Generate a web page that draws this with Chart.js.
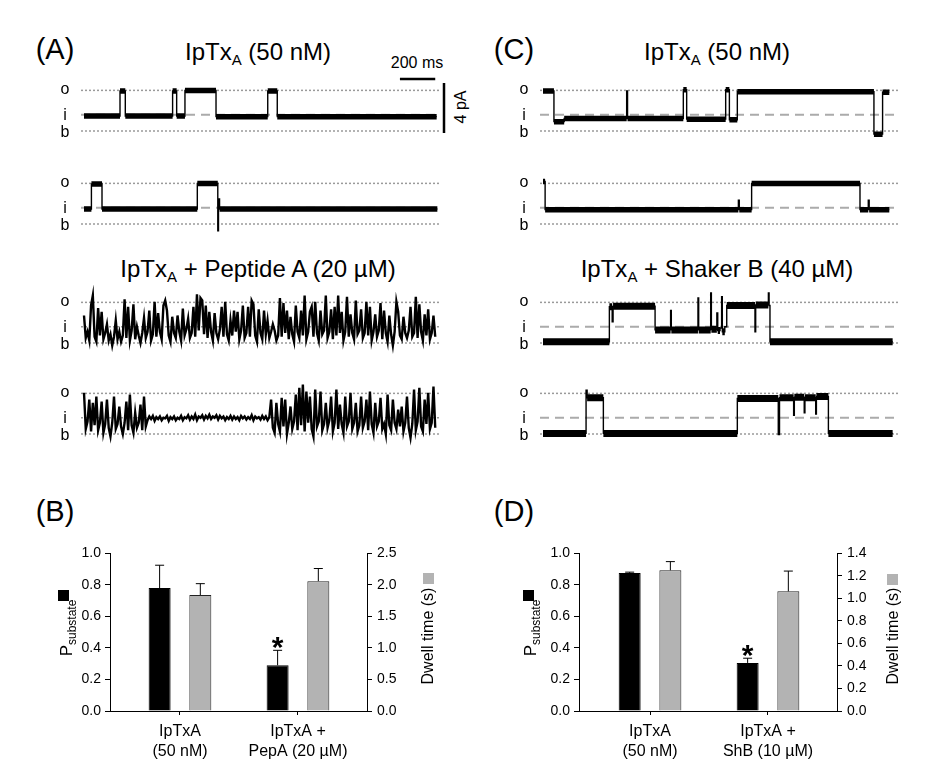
<!DOCTYPE html>
<html>
<head>
<meta charset="utf-8">
<script src="https://cdn.jsdelivr.net/npm/chart.js@4.4.1/dist/chart.umd.min.js"></script>
<style>
  body { margin: 0; background: #fff; font-family: 'Liberation Sans', Arial, sans-serif; color: #000; }
  #fig { position: relative; width: 926px; height: 771px; overflow: hidden; }
  canvas { position: absolute; }
  .t { position: absolute; transform: translate(-50%, -50%); white-space: nowrap; line-height: 1; }
  .panel { font-size: 29px; }
  .title { font-size: 24px; }
  .title sub { font-size: 15px; vertical-align: baseline; position: relative; top: 5px; }
  .small { font-size: 16px; }
  .rot { transform: translate(-50%, -50%) rotate(-90deg); }
  .ytitle { font-size: 17px; }
  .ytitle sub { font-size: 12px; vertical-align: baseline; position: relative; top: 4px; }
  .dwell { font-size: 16px; }
  .sq { position: absolute; width: 11px; height: 11px; }
</style>
</head>
<body>
<div id="fig">
  <div class="t panel" style="left:55px;top:49px">(A)</div>
  <div class="t panel" style="left:514px;top:49px">(C)</div>
  <div class="t panel" style="left:55px;top:511px">(B)</div>
  <div class="t panel" style="left:514px;top:511px">(D)</div>

  <div class="t title" style="left:258px;top:52px">IpTx<sub>A</sub> (50 nM)</div>
  <div class="t title" style="left:717px;top:52px">IpTx<sub>A</sub> (50 nM)</div>
  <div class="t title" style="left:258px;top:269px">IpTx<sub>A</sub> + Peptide A (20 µM)</div>
  <div class="t title" style="left:717px;top:269px">IpTx<sub>A</sub> + Shaker B (40 µM)</div>

  <div class="t small" style="left:417px;top:63px">200 ms</div>
  <div class="t small rot" style="left:461px;top:107px">4 pA</div>

  <canvas id="traceA1" width="419" height="80" style="left:51px;top:71px"></canvas>
  <canvas id="traceA2" width="419" height="80" style="left:51px;top:164px"></canvas>
  <canvas id="traceA3" width="419" height="80" style="left:51px;top:283px"></canvas>
  <canvas id="traceA4" width="419" height="80" style="left:51px;top:374px"></canvas>
  <canvas id="traceC1" width="409" height="80" style="left:510px;top:71px"></canvas>
  <canvas id="traceC2" width="409" height="80" style="left:510px;top:164px"></canvas>
  <canvas id="traceC3" width="409" height="80" style="left:510px;top:283px"></canvas>
  <canvas id="traceC4" width="409" height="80" style="left:510px;top:374px"></canvas>

  <canvas id="barsB" width="380" height="230" style="left:50px;top:540px"></canvas>
  <canvas id="barsD" width="381" height="230" style="left:519px;top:540px"></canvas>

  <div class="t ytitle rot" style="left:66px;top:628px">P<sub>substate</sub></div>
  <div class="sq" style="left:58px;top:590px;background:#000"></div>
  <div class="t dwell rot" style="left:428px;top:636px">Dwell time (s)</div>
  <div class="sq" style="left:423px;top:573px;background:#b3b3b3"></div>

  <div class="t ytitle rot" style="left:530px;top:628px">P<sub>substate</sub></div>
  <div class="sq" style="left:523px;top:590px;background:#000"></div>
  <div class="t dwell rot" style="left:893px;top:636px">Dwell time (s)</div>
  <div class="sq" style="left:887px;top:574px;background:#b3b3b3"></div>
</div>

<script>
// current levels (pA, blocked = 0)
const levelOpen = 3.25;
const levelSub = 1.3;
const levelBlocked = 0;
const traceMin = -17;
const traceMax = 2017;
const flickerStep = 10; // ms between samples of the flicker traces
const minDwell = 12; // shorter dwells are drawn as thin spikes

// scale bars of panel A (ms, pA)
const timeBar = [1790, 1990];
const timeBarLevel = 4.16;
const currentBar = [-0.16, 3.84];

// IpTxA traces: time of each transition (ms) and level after it (pA)
const a1Times = [0, 204, 234, 502, 525, 572, 748, 1041, 1095, 1998];
const a1Levels = [1.2, 3.2, 1.2, 3.2, 1.2, 3.25, 1.15, 3.2, 1.15, 1.15];
const a2Times = [0, 42, 102, 642, 758, 762, 768, 2002];
const a2Levels = [1.2, 3.2, 1.2, 3.25, -0.55, 2.0, 1.2, 1.2];
const c1Times = [0, 62, 120, 474, 479, 795, 814, 1035, 1056, 1101, 1875, 1924, 1962];
const c1Levels = [3.2, 0.75, 1.0, 3.2, 1.0, 3.3, 0.95, 3.3, 0.9, 3.15, -0.25, 3.1, 3.1];
const c2Times = [0, 12, 1107, 1112, 1182, 1796, 1843, 1848, 1962];
const c2Levels = [3.4, 1.15, 1.9, 1.15, 3.25, 1.15, 1.9, 1.15, 1.15];
const c3Times = [0, 376, 392, 397, 635, 723, 727, 878, 882, 950, 954, 985, 990, 1003, 1012, 1016, 1030, 1041, 1201, 1205, 1277, 1281, 1286, 1981];
const c3Levels = [0.1, 2.9, 1.7, 2.95, 1.05, 2.6, 1.05, 3.6, 1.05, 4.0, 1.1, 2.4, 1.0, 1.2, 3.7, 0.9, 1.3, 3.0, 0.9, 3.05, 4.0, 3.0, 0.1, 0.1];
const c4Times = [0, 244, 250, 342, 1101, 1333, 1340, 1420, 1424, 1480, 1484, 1545, 1549, 1617, 1981];
const c4Levels = [0.05, 3.5, 2.9, 0.05, 2.85, -0.05, 2.9, 1.5, 2.95, 1.7, 2.9, 1.6, 3.0, 0.05, 0.05];

// IpTxA + Peptide A traces, one reading every 10 ms (pA)
const a3Current = [
  2.2, 0.4, 0.9, 0.2, 3.0, 3.8, 0.5, 0.1, 2.8, 0.6, 2.5, 0.3, 0.8, 1.5, 0.2, 0.7, -0.2, 0.5, 1.8, 0.3,
  0.9, 0.1, 0.6, 3.5, 0.4, 2.9, 0.2, 1.0, 3.1, 0.3, 1.3, 0.6, 0.0, 0.8, 2.0, 0.4, 0.9, 2.6, 0.2, 0.7,
  3.3, 0.5, 2.4, 0.9, 0.3, 3.0, 3.4, 2.6, 0.6, 0.1, 2.1, 0.8, 0.4, 2.2, 0.9, 0.2, 2.75, 0.6, 1.1, 1.95,
  0.4, 0.8, 2.9, 0.5, 3.9, 1.0, 3.6, 3.4, 0.7, 3.0, 0.4, 2.5, 0.9, 0.2, 2.4, 0.8, 0.3, 1.1, 2.9, 0.5,
  3.3, 0.7, 0.2, 1.8, 0.6, 2.6, 0.9, 2.5, 0.3, 1.0, 3.0, 0.4, 0.8, 2.9, 0.5, 3.4, 3.1, 0.6, 0.1, 2.7,
  0.8, 0.3, 2.6, 0.7, 1.8, 0.4, 0.9, 1.5, 1.0, 0.2, 0.6, 3.6, 0.5, 3.2, 0.8, 2.6, 0.3, 2.1, 0.7, 0.1,
  3.0, 0.9, 0.4, 2.6, 0.6, 3.8, 0.3, 0.9, 2.5, 2.9, 0.5, 3.3, 0.8, 0.2, 2.6, 0.7, 1.0, 3.8, 0.4, 0.9,
  2.7, 0.3, 2.9, 0.6, 3.8, 0.8, 2.5, 0.2, 0.9, 3.7, 0.5, 2.3, 0.8, 0.3, 3.4, 0.7, 1.0, 2.7, 0.4, 0.8,
  3.3, 0.6, 2.9, 0.2, 0.9, 2.3, 0.5, 1.0, 3.2, 0.3, 2.6, 0.8, 0.1, 2.2, 0.7, -0.2, 0.9, 3.3, 2.5, 0.6,
  0.3, 2.1, 0.8, 0.4, 1.0, 2.9, 0.5, 0.8, 3.7, 0.4, 3.1, 0.9, 0.2, 2.3, 0.6, 2.7, 0.3, 0.8, 2.2, 0.5,
];
const a4Current = [
  3.3, 0.4, 1.0, 2.75, 0.2, 2.5, 0.7, 3.0, 0.3, 0.9, 2.6, 0.1, 0.8, 2.75, 0.5, -0.2, 0.9, 3.0, 0.4, 0.8,
  2.2, 0.6, 0.0, 0.9, 2.6, 0.3, 3.15, 0.7, 0.1, 1.7, 0.5, 0.9, 2.35, 0.3, 3.0, 0.6,
  1.1, 1.4, 1.2, 1.45, 1.05, 1.35, 1.2, 1.4, 1.1, 1.3, 1.25, 1.45, 1.05, 1.35, 1.2, 1.4, 1.1, 1.3, 1.2, 1.45,
  1.1, 1.35, 1.25, 1.5, 1.15, 1.4, 1.2, 1.55, 1.1, 1.4, 1.3, 1.5, 1.15, 1.45, 1.25, 1.55, 1.2, 1.4, 1.3, 1.5,
  1.15, 1.45, 1.25, 1.4, 1.1, 1.35, 1.2, 1.45, 1.15, 1.4, 1.2, 1.35, 1.1, 1.45, 1.25, 1.4, 1.15, 1.35, 1.2, 1.5,
  1.1, 1.4, 1.25, 1.35, 1.15, 1.45, 1.2, 1.4, 1.1, 1.35,
  2.75, 0.5, 0.1, 2.5, 0.8, 0.2, 2.9, 0.6, 2.75, 0.0, 0.9, 2.2, 0.4, 1.0, 3.15, 0.3, 3.7, 0.7, 3.95, 0.2,
  3.4, 0.9, 3.0, 0.4, -0.2, 3.55, 0.6, 1.0, 3.4, 0.3, 0.8, 2.5, 0.5, 1.1, 3.0, 0.2, 0.9, 3.55, 0.4, 2.35,
  0.8, 0.1, 3.0, 0.6, 1.0, 3.3, 0.4, 0.9, 2.5, 0.2, 0.7, 3.0, 0.5, 1.0, 2.75, 0.3, 3.4, 0.8, 0.1, 2.5,
  0.6, 1.0, 2.9, 0.4, 0.8, 0.0, 3.15, 0.7, 0.3, 2.75, 0.9, 0.4, 1.95, 0.6, 2.2, 0.2, 0.9, 3.0, 0.5, -0.3,
  0.8, 3.55, 0.3, 1.0, 3.7, 0.6, 0.2, 2.75, 0.8, 3.3, 0.4, 0.9, 3.8, 0.5,
];

// bar panels
const catLabelsB = [['IpTxA', '(50 nM)'], ['IpTxA +', 'PepA (20 µM)']];
const pSubB = [0.78, 0.29];
const pSubErrB = [0.145, 0.095];
const dwellB = [1.84, 2.06];
const dwellErrB = [0.18, 0.2];
const starsB = [false, true];

const catLabelsD = [['IpTxA', '(50 nM)'], ['IpTxA +', 'ShB (10 µM)']];
const pSubD = [0.875, 0.305];
const pSubErrD = [0.006, 0.03];
const dwellD = [1.25, 1.063];
const dwellErrD = [0.077, 0.18];
const starsD = [false, true];

const FONT = "'Liberation Sans', Arial, sans-serif";
Chart.defaults.font.family = FONT;
Chart.defaults.color = '#000';

function stepPoints(times, levels) {
  return times.map((t, i) => ({ x: t, y: levels[i] }));
}

// the noisy band of each dwell that is long enough to show one
function dwellPoints(times, levels) {
  const pts = [];
  for (let i = 0; i < times.length - 1; i += 1) {
    if (times[i + 1] - times[i] < minDwell) continue;
    pts.push({ x: times[i], y: levels[i] }, { x: times[i + 1], y: levels[i] }, { x: times[i + 1], y: null });
  }
  return pts;
}

function sampledPoints(values) {
  return values.map((v, i) => ({ x: i * flickerStep, y: v }));
}

function levelLine(level, dash, color, width) {
  return {
    data: [{ x: traceMin, y: level }, { x: traceMax, y: level }],
    borderColor: color,
    borderWidth: width,
    borderDash: dash,
    pointRadius: 0,
  };
}

const stateLabels = {
  id: 'stateLabels',
  afterDraw(chart) {
    const { ctx, chartArea, scales } = chart;
    ctx.save();
    ctx.font = '16px ' + FONT;
    ctx.fillStyle = '#000';
    ctx.textAlign = 'center';
    ctx.textBaseline = 'middle';
    [['o', levelOpen, -1], ['i', levelSub, 1], ['b', levelBlocked, 2]].forEach(([txt, v, dy]) => {
      ctx.fillText(txt, chartArea.left - 16, scales.y.getPixelForValue(v) + dy);
    });
    ctx.restore();
  },
};

const scaleBarPlugin = {
  id: 'scaleBars',
  afterDraw(chart) {
    const { ctx, chartArea, scales } = chart;
    ctx.save();
    ctx.strokeStyle = '#000';
    ctx.lineWidth = 2.5;
    ctx.beginPath();
    const yb = scales.y.getPixelForValue(timeBarLevel);
    ctx.moveTo(scales.x.getPixelForValue(timeBar[0]), yb);
    ctx.lineTo(scales.x.getPixelForValue(timeBar[1]), yb);
    const xb = chartArea.right + 4;
    ctx.moveTo(xb, scales.y.getPixelForValue(currentBar[0]));
    ctx.lineTo(xb, scales.y.getPixelForValue(currentBar[1]));
    ctx.stroke();
    ctx.restore();
  },
};

function drawTrace(id, traceSets, opts) {
  const dotted = [2, 2];
  const subLine = opts.dottedSub
    ? levelLine(levelSub, dotted, '#9a9a9a', 1.5)
    : levelLine(levelSub, [9, 6], '#ababab', 2);
  const plugins = [stateLabels];
  if (opts.scaleBars) plugins.push(scaleBarPlugin);
  return new Chart(document.getElementById(id), {
    type: 'line',
    data: {
      datasets: [
        ...traceSets,
        levelLine(levelOpen, dotted, '#9a9a9a', 1.5),
        subLine,
        levelLine(levelBlocked, dotted, '#9a9a9a', 1.5),
      ],
    },
    options: {
      responsive: false,
      animation: false,
      events: [],
      layout: { padding: { left: 30, right: opts.padRight, top: 0, bottom: 0 } },
      plugins: { legend: { display: false }, tooltip: { enabled: false } },
      scales: {
        x: { type: 'linear', min: traceMin, max: traceMax, display: false },
        y: { type: 'linear', min: -1.6, max: 4.8, display: false },
      },
    },
    plugins,
  });
}

function stepTrace(id, times, levels, opts) {
  const sets = [
    { data: stepPoints(times, levels), borderColor: '#000', borderWidth: 1.4, stepped: true, pointRadius: 0 },
    { data: dwellPoints(times, levels), borderColor: '#000', borderWidth: opts.band, borderCapStyle: 'butt', pointRadius: 0, spanGaps: false },
  ];
  return drawTrace(id, sets, opts);
}

function flickerTrace(id, values, opts) {
  const sets = [
    { data: sampledPoints(values), borderColor: '#000', borderWidth: 2.4, pointRadius: 0, tension: 0 },
  ];
  return drawTrace(id, sets, { ...opts, dottedSub: true });
}

const errorBars = {
  id: 'errorBars',
  afterDatasetsDraw(chart) {
    const { ctx } = chart;
    ctx.save();
    ctx.strokeStyle = '#000';
    ctx.fillStyle = '#000';
    ctx.lineWidth = 1;
    chart.data.datasets.forEach((ds, di) => {
      const meta = chart.getDatasetMeta(di);
      const scale = chart.scales[ds.yAxisID];
      meta.data.forEach((bar, j) => {
        const top = scale.getPixelForValue(ds.data[j].y + ds.errors[j]);
        ctx.beginPath();
        ctx.moveTo(bar.x, bar.y);
        ctx.lineTo(bar.x, top);
        ctx.moveTo(bar.x - 4.5, top);
        ctx.lineTo(bar.x + 4.5, top);
        ctx.stroke();
        if (ds.stars && ds.stars[j]) {
          ctx.font = 'bold 30px ' + FONT;
          ctx.textAlign = 'center';
          ctx.textBaseline = 'alphabetic';
          ctx.fillText('*', bar.x, top + 7);
        }
      });
    });
    ctx.restore();
  },
};

function drawBars(id, cats, pSub, pSubErr, dwell, dwellErr, stars, xMin, dwellMax, dwellStep) {
  const axisGrid = { drawOnChartArea: false, tickLength: 5, color: '#000' };
  return new Chart(document.getElementById(id), {
    type: 'bar',
    data: {
      datasets: [
        {
          data: pSub.map((v, i) => ({ x: i, y: v })),
          errors: pSubErr,
          stars,
          yAxisID: 'y',
          backgroundColor: '#000',
          borderColor: '#000',
          borderWidth: 1,
          categoryPercentage: 0.69,
          barPercentage: 0.54,
        },
        {
          data: dwell.map((v, i) => ({ x: i, y: v })),
          errors: dwellErr,
          yAxisID: 'y1',
          backgroundColor: '#b3b3b3',
          borderColor: '#222',
          borderWidth: 1,
          categoryPercentage: 0.69,
          barPercentage: 0.54,
        },
      ],
    },
    options: {
      responsive: false,
      animation: false,
      events: [],
      layout: { padding: { top: 7, left: 0, right: 0, bottom: 0 } },
      plugins: { legend: { display: false }, tooltip: { enabled: false } },
      scales: {
        x: {
          type: 'linear',
          offset: false,
          min: xMin,
          max: 1.585,
          afterBuildTicks: (scale) => { scale.ticks = cats.map((c, i) => ({ value: i })); },
          afterFit: (scale) => { scale.height = 59; },
          ticks: {
            callback: (v) => cats[v],
            font: { size: 16, lineHeight: 1.25 },
            color: '#000',
            padding: 7,
            maxRotation: 0,
            autoSkip: false,
          },
          grid: { offset: false, drawOnChartArea: false, tickLength: 4, color: '#000' },
          border: { color: '#000' },
        },
        y: {
          position: 'left',
          min: 0,
          max: 1,
          afterFit: (scale) => { scale.width = 60; },
          ticks: { stepSize: 0.2, callback: (v) => v.toFixed(1), font: { size: 14 }, color: '#000', padding: 4 },
          grid: axisGrid,
          border: { color: '#000' },
        },
        y1: {
          position: 'right',
          min: 0,
          max: dwellMax,
          afterFit: (scale) => { scale.width = 63; },
          ticks: { stepSize: dwellStep, callback: (v) => v.toFixed(1), font: { size: 14 }, color: '#000', padding: 5 },
          grid: axisGrid,
          border: { color: '#000' },
        },
      },
    },
    plugins: [errorBars],
  });
}

const sideA = { padRight: 30, band: 5.5 };
const sideC = { padRight: 20, band: 5.5 };
const noisyC = { padRight: 20, band: 7 };

stepTrace('traceA1', a1Times, a1Levels, { ...sideA, scaleBars: true });
stepTrace('traceA2', a2Times, a2Levels, sideA);
flickerTrace('traceA3', a3Current, sideA);
flickerTrace('traceA4', a4Current, sideA);
stepTrace('traceC1', c1Times, c1Levels, sideC);
stepTrace('traceC2', c2Times, c2Levels, sideC);
stepTrace('traceC3', c3Times, c3Levels, noisyC);
stepTrace('traceC4', c4Times, c4Levels, noisyC);

drawBars('barsB', catLabelsB, pSubB, pSubErrB, dwellB, dwellErrB, starsB, -0.593, 2.5, 0.5);
drawBars('barsD', catLabelsD, pSubD, pSubErrD, dwellD, dwellErrD, starsD, -0.602, 1.4, 0.2);
</script>
</body>
</html>
